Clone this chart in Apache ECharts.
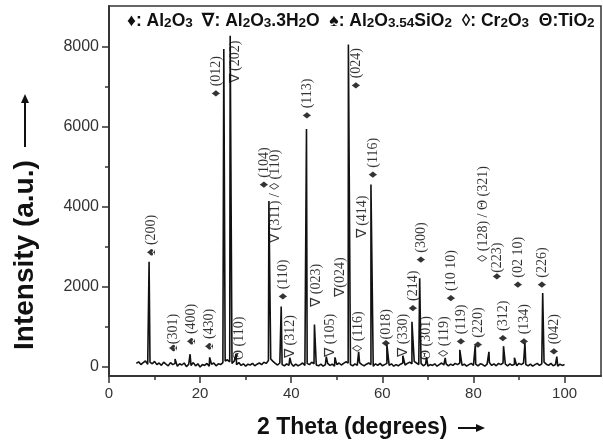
<!DOCTYPE html>
<html lang="en">
<head>
<meta charset="UTF-8">
<title>XRD pattern</title>
<script src="https://cdn.jsdelivr.net/npm/echarts@6/dist/echarts.min.js"></script>
</head>
<body style="margin:0">
<div id="main" style="width:603px;height:448px"></div>
<script>
// noisy background, read every 0.5 deg from 6 to 100
var baseStart = 6, baseStep = 0.5;
var baseline = [
  90,130,60,110,150,70,120,80,140,60,
  100,40,120,70,30,110,60,90,20,80,
  50,100,10,70,40,110,30,80,0,60,
  40,90,20,70,100,30,80,60,110,150,
  180,130,90,150,60,110,40,80,20,70,
  50,90,30,70,100,60,120,90,160,200,
  140,90,50,100,60,30,80,40,90,20,
  70,30,60,100,40,90,60,120,80,50,
  30,70,20,60,90,40,70,20,60,100,
  50,90,130,100,60,30,80,40,110,60,
  30,70,100,60,20,80,40,90,30,60,
  90,40,80,20,60,30,70,100,50,90,
  120,80,140,100,60,90,30,70,20,60,
  40,80,20,60,100,50,80,30,70,40,
  90,60,100,40,70,20,60,90,40,70,
  30,80,60,20,70,110,40,80,30,90,
  60,100,70,30,80,40,70,30,90,60,
  100,60,30,70,20,60,90,40,80,120,
  70,40,90,30,60,20,70,40,60
];
// peak tops
var peakPos = [8.8,14.5,17.8,22.1,25.2,26.6,27.9,35.1,37.8,39.7,43.35,45.1,47.7,49.6,52.55,54.8,57.5,61.0,64.5,66.5,68.2,69.7,73.8,77.0,80.4,83.4,86.6,89.0,91.3,95.2,98.3];
var peakInt = [2630,200,320,240,7950,8280,330,4150,1510,230,5950,1060,260,240,8060,380,4560,560,280,1130,2220,250,230,430,540,380,520,230,600,1850,260];

var tickX = [0,20,40,60,80,100];
var minorX = [10,30,50,70,90];
var tickY = [0,2000,4000,6000,8000];
var minorY = [1000,3000,5000,7000];

// hkl annotations (start point of the rotated text)
var labelX = [9.4,14.1,18.0,22.1,23.6,27.8,28.7,34.2,36.6,38.2,39.7,43.5,45.5,48.5,50.7,54.4,54.8,55.6,58.0,60.9,64.5,66.7,68.6,69.7,73.7,75.1,77.3,81.0,82.1,85.2,86.5,89.8,91.2,95.2,97.8];
var labelY = [2775,383,550,425,6750,7090,175,4467,3100,1675,225,6200,1508,258,1758,6950,383,3217,4717,508,258,1383,2592,175,258,1633,550,467,2633,2175,633,1967,550,1967,300];
var labelText = ['♠ (200)','♠(301)','♠ (400)','♠ (430)','♦ (012)','∇ (202)','Θ (110)','♦ (104)','∇ (311) / ◊ (110)','♦ (110)','∇ (312)','♦ (113)','∇ (023)','∇ (105)','∇(024)','♦ (024)','◊ (116)','∇ (414)','♦ (116)','♦(018)','∇ (330)','♦ (214)','♦ (300)','Θ (301)','◊ (119)','♦ (10 10)','♦ (119)','♦ (220)','◊ (128) / Θ (321)','♦(223)','♦ (312)','♦ (02 10)','♦ (134)','♦ (226)','♦ (042)'];

var pts = [];
baseline.forEach(function (v, i) { pts.push([baseStart + i * baseStep, v]); });
peakPos.forEach(function (p, i) { pts.push([p, peakInt[i]]); });
pts.sort(function (a, b) { return a[0] - b[0]; });

var labelData = labelX.map(function (x, i) {
  return { name: labelText[i], value: [x, labelY[i]] };
});

var axisColor = '#333';
var xRange = { min: 0, max: 108 };
var yRange = { min: -225, max: 9025 };
var plain = function (v) { return String(v); };

function axisX(ticks, len, labels) {
  return {
    type: 'value', min: xRange.min, max: xRange.max, position: 'bottom',
    axisLine: { show: true, onZero: false, lineStyle: { color: axisColor, width: 1.5 } },
    axisTick: { show: true, customValues: ticks, length: len, lineStyle: { color: axisColor, width: 1.5 } },
    axisLabel: { show: labels, customValues: ticks, formatter: plain, fontSize: 15, color: '#333', margin: 10, fontFamily: 'Liberation Sans' },
    splitLine: { show: false }
  };
}
function axisY(ticks, len, labels) {
  return {
    type: 'value', min: yRange.min, max: yRange.max, position: 'left',
    axisLine: { show: true, onZero: false, lineStyle: { color: axisColor, width: 1.5 } },
    axisTick: { show: true, customValues: ticks, length: len, lineStyle: { color: axisColor, width: 1.5 } },
    axisLabel: { show: labels, customValues: ticks, formatter: plain, fontSize: 16, color: '#333', margin: 10, fontFamily: 'Liberation Sans' },
    splitLine: { show: false }
  };
}

var chart = echarts.init(document.getElementById('main'));
chart.setOption({
  animation: false,
  grid: {
    left: 109, right: 2, top: 6, bottom: 72,
    show: true, borderColor: axisColor, borderWidth: 1.5,
    outerBoundsMode: 'none'
  },
  xAxis: [axisX(tickX, 7, true), axisX(minorX, 4, false)],
  yAxis: [axisY(tickY, 7, true), axisY(minorY, 4, false)],
  series: [{
    type: 'line',
    data: pts,
    showSymbol: false,
    lineStyle: { color: '#111', width: 1.6 },
    silent: true
  }, {
    type: 'scatter',
    data: labelData,
    symbolSize: 1,
    itemStyle: { color: 'rgba(0,0,0,0)' },
    silent: true,
    label: {
      show: true,
      position: 'inside',
      rotate: 90,
      align: 'left',
      verticalAlign: 'middle',
      formatter: '{b}',
      fontFamily: 'Liberation Serif',
      fontSize: 14,
      color: '#000'
    },
    labelLayout: { hideOverlap: false }
  }],
  graphic: [{
    type: 'text',
    left: 127, top: 7,
    style: {
      text: '{n|♦: Al}{s|2}{n|O}{s|3}{n|  ∇: Al}{s|2}{n|O}{s|3}{n|.3H}{s|2}{n|O  ♠: Al}{s|2}{n|O}{s|3.54}{n|SiO}{s|2}{n|  ◊: Cr}{s|2}{n|O}{s|3}{n|  Θ:TiO}{s|2}',
      rich: {
        n: { font: 'bold 17.5px "Liberation Sans"', lineHeight: 18, verticalAlign: 'top', fill: '#111' },
        s: { font: 'bold 13.5px "Liberation Sans"', lineHeight: 13, padding: [9, 0, 0, 0], verticalAlign: 'bottom', fill: '#111' }
      }
    }
  }, {
    type: 'text',
    x: 257, y: 428,
    style: { text: '2 Theta (degrees)', font: 'bold 23px "Liberation Sans"', fill: '#111', align: 'left', verticalAlign: 'middle' }
  }, {
    type: 'line',
    shape: { x1: 458, y1: 428, x2: 478, y2: 428 },
    style: { stroke: '#111', lineWidth: 2 }
  }, {
    type: 'polygon',
    shape: { points: [[485, 428], [476, 424], [476, 432]] },
    style: { fill: '#111' }
  }, {
    type: 'text',
    x: 25, y: 350, rotation: Math.PI / 2,
    style: { text: 'Intensity (a.u.)', font: 'bold 28px "Liberation Sans"', fill: '#111', align: 'left', verticalAlign: 'middle' }
  }, {
    type: 'line',
    shape: { x1: 25, y1: 147, x2: 25, y2: 102 },
    style: { stroke: '#111', lineWidth: 2 }
  }, {
    type: 'polygon',
    shape: { points: [[25, 94], [21, 103], [29, 103]] },
    style: { fill: '#111' }
  }]
});
</script>
</body>
</html>
